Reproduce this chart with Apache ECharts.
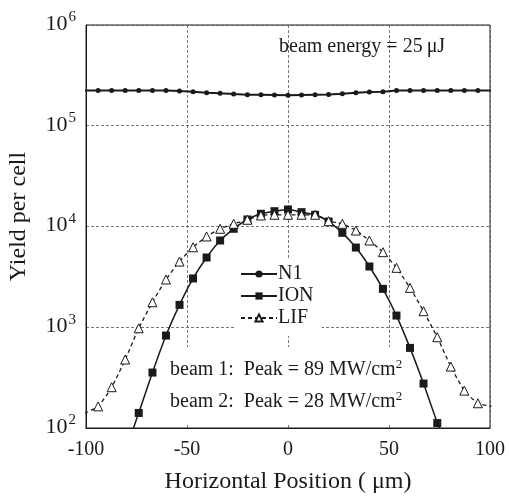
<!DOCTYPE html>
<html>
<head>
<meta charset="utf-8">
<script src="https://cdn.jsdelivr.net/npm/echarts@6/dist/echarts.min.js"></script>
<style>
  html, body { margin: 0; padding: 0; background: #fff; }
  #chart { width: 509px; height: 498px; }
</style>
</head>
<body>
<div id="chart"></div>
<script>
// horizontal positions (µm) shared by all curves
const xPos = [-100.7, -94, -87.3, -80.6, -73.9, -67.1, -60.4, -53.7, -47, -40.3, -33.6,
  -26.9, -20.1, -13.4, -6.7, 0, 6.7, 13.4, 20.1, 26.9, 33.6, 40.3, 47, 53.7, 60.4, 67.1,
  73.9, 80.6, 87.3, 94, 100.7];

const n1Vals = [224000, 224000, 224000, 224000, 224000, 224000, 224000, 221000, 217600,
  213000, 209600, 206400, 203300, 203300, 201800, 200300, 201800, 203300, 204800, 208000,
  213000, 216000, 217600, 224000, 224000, 224000, 224000, 224000, 224000, 224000, 224000];

const ionVals = [null, null, null, 58, 141, 355, 827, 1667, 3050, 4920, 7260, 9490, 11740,
  13370, 14190, 14750, 13880, 13060, 11210, 8650, 6180, 4010, 2405, 1306, 624, 276, 112,
  47, null, null, null];

const lifVals = [140, 164, 254, 478, 977, 1771, 2978, 4490, 6225, 7960, 9490, 10640, 11660,
  12860, 13070, 13070, 13070, 13070, 11290, 10640, 9120, 7260, 5560, 3890, 2460, 1443, 796,
  407, 235, 176, 165];

const seriesNames = ['N1', 'ION', 'LIF'];
const xTicks = [-100, -50, 0, 50, 100];

const serif = 'Liberation Serif';
const ink = '#1a1a1a';

function pairs(vals) {
  const out = [];
  for (let i = 0; i < xPos.length; i++) {
    if (vals[i] !== null) out.push([xPos[i], vals[i]]);
  }
  return out;
}

const chart = echarts.init(document.getElementById('chart'));

const option = {
  animation: false,
  backgroundColor: '#fff',
  grid: {
    left: 86, right: 19, top: 25, bottom: 70,
    outerBoundsMode: 'none',
    show: true, borderColor: ink, borderWidth: 1
  },
  legend: {
    data: seriesNames,
    orient: 'vertical',
    left: 234, top: 258,
    backgroundColor: '#fff',
    padding: [6, 8, 8, 6],
    itemWidth: 36, itemHeight: 9, itemGap: 2,
    selectedMode: false,
    textStyle: { fontFamily: serif, fontSize: 20, color: ink, padding: [0, 0, 0, -4] }
  },
  xAxis: {
    type: 'value',
    min: -100, max: 100, interval: 50,
    name: 'Horizontal Position ( μm)',
    nameLocation: 'middle', nameGap: 42,
    nameTextStyle: { fontFamily: serif, fontSize: 24, color: ink },
    axisLine: { onZero: false, lineStyle: { color: ink } },
    axisTick: { show: false },
    axisLabel: {
      margin: 12, fontFamily: serif, fontSize: 20, color: ink,
      customValues: xTicks
    },
    splitLine: { lineStyle: { color: '#555', width: 0.8, type: [3, 2] } }
  },
  yAxis: {
    type: 'log', logBase: 10,
    min: 100, max: 1000000,
    name: 'Yield per cell',
    nameLocation: 'middle', nameGap: 55,
    nameTextStyle: { fontFamily: serif, fontSize: 24, color: ink, padding: [0, 0, 0, 20] },
    axisLine: { show: true, onZero: false, lineStyle: { color: ink } },
    axisTick: { show: false },
    axisLabel: {
      margin: 10,
      formatter: function (v) {
        return '{b|10}{s|' + Math.round(Math.log10(v)) + '}';
      },
      rich: {
        b: { fontFamily: serif, fontSize: 22, color: ink, verticalAlign: 'bottom', padding: [3, 0, 5, 0] },
        s: { fontFamily: serif, fontSize: 15, color: ink, verticalAlign: 'top', padding: [0, 0, 10, 1] }
      }
    },
    splitLine: { lineStyle: { color: '#555', width: 0.8, type: [3, 2] } }
  },
  graphic: [
    {
      type: 'rect', z: 1,
      shape: { x: 164, y: 347, width: 248, height: 77 },
      style: { fill: '#fff' }
    },
    {
      type: 'text', z: 5, left: 170, top: 358,
      style: {
        text: 'beam 1:  Peak = 89 MW/cm{s|2}',
        font: '20px "Liberation Serif"', fill: ink,
        rich: { s: { fontFamily: serif, fontSize: 13, verticalAlign: 'top', padding: [0, 0, 10, 0] } }
      }
    },
    {
      type: 'text', z: 5, left: 170, top: 390,
      style: {
        text: 'beam 2:  Peak = 28 MW/cm{s|2}',
        font: '20px "Liberation Serif"', fill: ink,
        rich: { s: { fontFamily: serif, fontSize: 13, verticalAlign: 'top', padding: [0, 0, 10, 0] } }
      }
    },
    {
      type: 'text', z: 5, left: 279, top: 37,
      style: { text: 'beam energy = 25\u2009μJ', font: '20px "Liberation Serif"', fill: ink }
    }
  ],
  series: [
    {
      name: 'N1', type: 'line', data: pairs(n1Vals),
      symbol: 'circle', symbolSize: 5,
      lineStyle: { color: ink, width: 2 },
      itemStyle: { color: ink }
    },
    {
      name: 'ION', type: 'line', data: pairs(ionVals),
      symbol: 'rect', symbolSize: 8, smooth: 0.2,
      lineStyle: { color: ink, width: 1.5 },
      itemStyle: { color: ink }
    },
    {
      name: 'LIF', type: 'line', data: pairs(lifVals),
      symbol: 'triangle', symbolSize: 9, smooth: 0.2,
      lineStyle: { color: ink, width: 1.3, type: [4, 3] },
      itemStyle: { color: '#fff', borderColor: ink, borderWidth: 1 }
    }
  ]
};

chart.setOption(option);
</script>
</body>
</html>
